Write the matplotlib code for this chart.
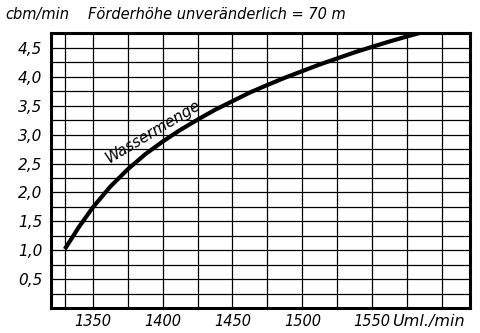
import numpy as np
import matplotlib
matplotlib.use('Agg')
import matplotlib.pyplot as plt
from matplotlib.ticker import FixedLocator

# pump output vs. speed at constant head of 70 m
drehzahl = [1330, 1340, 1350, 1362.5, 1375, 1387.5, 1400, 1412.5, 1425,
            1437.5, 1450, 1462.5, 1475, 1487.5, 1500, 1512.5, 1525, 1537.5,
            1550, 1562.5, 1575, 1590]
wassermenge = [1.02, 1.40, 1.74, 2.10, 2.40, 2.66, 2.88, 3.08, 3.26,
               3.43, 3.58, 3.73, 3.86, 3.985, 4.10, 4.215, 4.32, 4.425,
               4.52, 4.613, 4.70, 4.80]

x_labels = [1350, 1400, 1450, 1500, 1550]
x_grid = [1330] + list(range(1350, 1601, 25))
y_labels = [0.5, 1.0, 1.5, 2.0, 2.5, 3.0, 3.5, 4.0, 4.5]

plt.rcParams['font.family'] = ['DejaVu Sans']
fig = plt.figure(figsize=(4.8, 3.33), dpi=100)
ax = fig.add_axes([0.106, 0.075, 0.873, 0.826])

ax.plot(drehzahl, wassermenge, color='black', lw=3.0, solid_capstyle='butt',
        solid_joinstyle='round', zorder=3)
ax.set_xlim(1320, 1620)
ax.set_ylim(0, 4.76)

# grid lines drawn by hand so they don't depend on tick overlap
for xv in x_grid:
    ax.axvline(xv, color='black', lw=0.9, zorder=1)
for yv in np.arange(0.25, 4.75, 0.25):
    ax.axhline(yv, color='black', lw=0.9, zorder=1)

ax.xaxis.set_major_locator(FixedLocator(x_labels))
ax.yaxis.set_major_locator(FixedLocator(y_labels))
ax.tick_params(which='both', length=0)
ax.tick_params(axis='x', pad=4)
ax.tick_params(axis='y', pad=6)

ax.set_xticklabels([str(v) for v in x_labels], fontsize=10.5, style='italic')
ax.set_yticklabels([('%.1f' % v).replace('.', ',') for v in y_labels],
                   fontsize=11, style='italic')
for s in ax.spines.values():
    s.set_linewidth(2.2)
    s.set_color('black')
    s.set_zorder(5)

ax.text(1393, 3.05, 'Wassermenge', rotation=31, fontsize=11, style='italic',
        ha='center', va='center', zorder=4)
fig.text(0.816, 0.036, 'Uml./min', fontsize=11.5, style='italic', ha='left',
         va='center')
fig.text(0.012, 0.955, 'cbm/min', fontsize=10.5, style='italic', ha='left',
         va='center')
fig.text(0.183, 0.955, 'Förderhöhe unveränderlich = 70 m', fontsize=10.5,
         style='italic', ha='left', va='center')

fig.savefig('out.png', dpi=100)
